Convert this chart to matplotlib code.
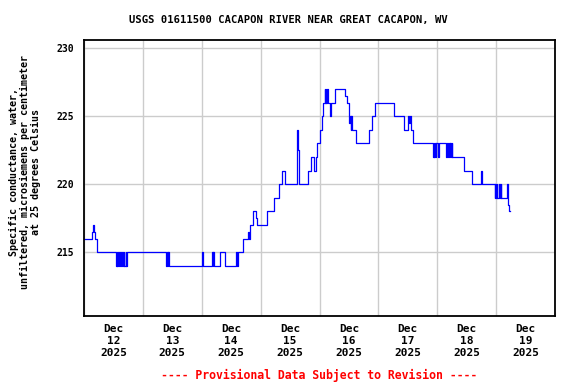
import matplotlib
matplotlib.use("Agg")
import matplotlib.pyplot as plt
import numpy as np

# Hours after 2025-12-12 00:00 at which the reading changes, and the new reading
hours = [
    0.0, 3.2, 3.6, 4.0, 4.4, 5.3,
    13.0, 13.4, 13.6, 14.0, 14.2, 14.8, 15.2, 15.4, 16.0, 16.3, 16.5, 17.0, 17.2, 17.6,
    33.5, 33.8, 34.1, 34.4, 34.6,
    48.2, 48.6, 52.3, 52.5, 52.7, 53.1, 55.3, 57.4,
    62.1, 62.3, 62.6, 65.0, 66.8, 67.2, 67.5, 67.8, 69.0, 70.2, 70.6,
    74.8, 77.4, 79.4, 80.6, 81.9, 87.0, 87.3, 87.6,
    91.2, 92.6, 93.6, 94.4, 95.1, 96.4, 97.1, 97.6,
    98.2, 98.4, 98.6, 98.8, 99.0, 99.4, 100.4, 100.8, 102.5,
    106.5, 107.1, 107.9, 108.2, 108.5, 108.8, 109.0, 109.3, 110.7,
    116.0, 117.5, 118.8, 126.4, 130.6, 132.0, 132.5, 132.8, 133.1, 134.0,
    142.2, 142.5, 142.7, 143.0, 143.3, 143.6, 144.2, 144.6,
    147.6, 147.9, 148.3, 148.6, 149.0, 149.3, 149.7, 149.9, 150.2,
    155.1, 158.1, 161.9, 162.3,
    167.4, 167.7, 168.0, 168.2, 168.5, 169.2, 169.5, 169.8, 170.0,
    172.3, 172.9, 173.4,
]
values = [
    216, 216.5, 217, 216.5, 216, 215,
    214, 215, 214, 215, 214, 215, 214, 215, 214, 215, 214, 215, 214, 215,
    214, 215, 214, 215, 214,
    215, 214, 215, 214, 215, 214, 215, 214,
    215, 214, 215, 216, 216.5, 216, 216.5, 217, 218, 217.5, 217,
    218, 219, 220, 221, 220, 224, 222.5, 220,
    221, 222, 221, 222, 223, 224, 225, 226,
    227, 226, 227, 226, 227, 226, 225, 226, 227,
    226.5, 226, 225, 224.5, 225, 224, 225, 224, 223,
    224, 225, 226, 225, 224, 225, 224.5, 225, 224, 223,
    222, 223, 222, 223, 222, 223, 222, 223,
    222, 223, 222, 223, 222, 223, 222, 223, 222,
    221, 220, 221, 220,
    219, 220, 219, 220, 219, 220, 219, 220, 219,
    220, 218.5, 218,
]
end_hour = 173.75

day_labels = ["Dec\n12\n2025", "Dec\n13\n2025", "Dec\n14\n2025", "Dec\n15\n2025",
              "Dec\n16\n2025", "Dec\n17\n2025", "Dec\n18\n2025", "Dec\n19\n2025"]
y_ticks = [215, 220, 225, 230]

start = np.datetime64("2025-12-12T00:00")
mins = (np.array(hours + [end_hour]) * 60).round().astype(int)
times = start + mins.astype("timedelta64[m]")
vals = values + [values[-1]]

mono = "DejaVu Sans Mono"

fig = plt.figure(figsize=(5.76, 3.84), dpi=100)
ax = fig.add_axes([84 / 576, 1 - 316 / 384, 471 / 576, 276 / 384])

ax.plot(times.astype("datetime64[s]").astype(object), vals, drawstyle="steps-post",
        color="#0000ff", linewidth=0.9)

days = [start + np.timedelta64(d, "D") for d in range(9)]
noons = [start + np.timedelta64(d * 24 + 12, "h") for d in range(8)]
ax.set_xlim(days[0].astype(object), days[-1].astype(object))
ax.set_xticks([d.astype(object) for d in days])
ax.set_xticklabels([])
ax.set_xticks([n.astype(object) for n in noons], minor=True)
ax.set_xticklabels(day_labels, minor=True, fontfamily=mono, fontweight="bold", fontsize=8)
ax.tick_params(axis="x", which="minor", length=0, pad=6)
ax.tick_params(axis="x", which="major", direction="in", length=3, color="#cccccc")

ax.set_ylim(210.3, 230.6)
ax.set_yticks(y_ticks)
ax.set_yticklabels([str(t) for t in y_ticks], fontfamily=mono, fontweight="bold", fontsize=7)
ax.tick_params(axis="y", direction="in", length=3, color="#cccccc", pad=7)

ax.grid(True, which="major", color="#cccccc", linewidth=1)
ax.set_axisbelow(True)
for sp in ax.spines.values():
    sp.set_linewidth(1.3)
    sp.set_color("black")

fig.text(0.5, 1 - 20 / 384, "USGS 01611500 CACAPON RIVER NEAR GREAT CACAPON, WV",
         ha="center", va="center", fontfamily=mono, fontweight="bold", fontsize=7.6)
fig.text(25 / 576, 1 - 172 / 384,
         "Specific conductance, water,\nunfiltered, microsiemens per centimeter\nat 25 degrees Celsius",
         ha="center", va="center", rotation=90, multialignment="center",
         fontfamily=mono, fontweight="bold", fontsize=7.2, linespacing=1.15)
fig.text(319 / 576, 1 - 375 / 384, "---- Provisional Data Subject to Revision ----",
         ha="center", va="center", color="red", fontfamily=mono, fontweight="bold", fontsize=8.3)

fig.savefig("out.png", dpi=100)
